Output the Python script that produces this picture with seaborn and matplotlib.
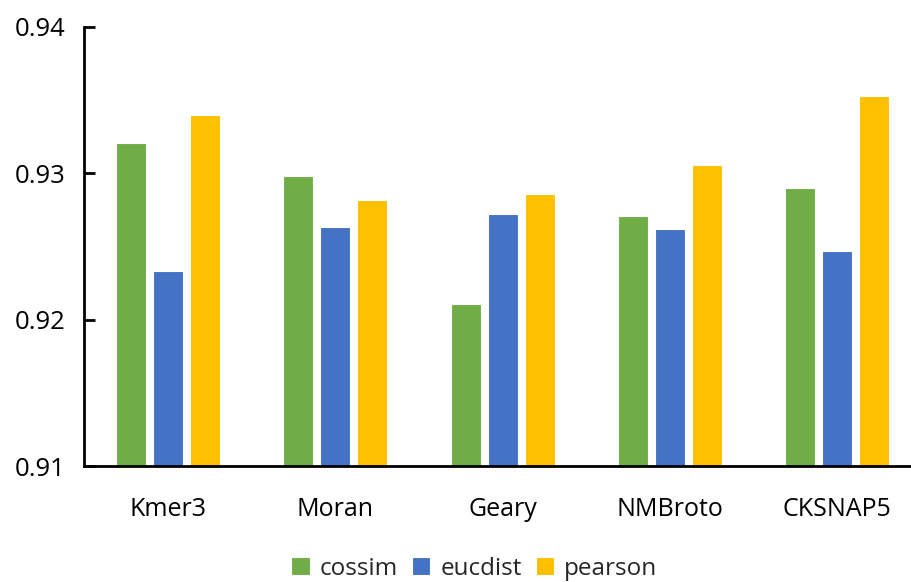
import matplotlib
matplotlib.use("Agg")
import matplotlib.pyplot as plt
import seaborn as sns
import pandas as pd

# Feature encodings and the score of each similarity measure
categories = ["Kmer3", "Moran", "Geary", "NMBroto", "CKSNAP5"]
measures = ["cossim", "eucdist", "pearson"]
cossim = [0.9321, 0.9298, 0.9211, 0.9271, 0.9290]
eucdist = [0.9233, 0.9263, 0.9272, 0.9262, 0.9247]
pearson = [0.9340, 0.9282, 0.9286, 0.9306, 0.9353]
yticks = [0.91, 0.92, 0.93, 0.94]

colors = ["#70AD47", "#4472C4", "#FFC000"]

df = pd.DataFrame({
    "feature": categories * 3,
    "measure": [m for m in measures for _ in categories],
    "score": cossim + eucdist + pearson,
})

sns.set_theme(style="white")
plt.rcParams["font.family"] = ["Open Sans", "DejaVu Sans"]

fig = plt.figure(figsize=(9.11, 5.82), dpi=100)
ax = fig.add_axes([84 / 911, 1 - 466 / 582, (911 - 84) / 911, (466 - 27) / 582])

sns.barplot(data=df, x="feature", y="score", hue="measure",
            order=categories, hue_order=measures, palette=colors,
            width=0.663, gap=0.19, saturation=1, ax=ax,
            edgecolor="white", linewidth=0.8)

ax.set_ylim(0.91, 0.94)
ax.set_xlim(-0.5, 4.44)
ax.set_yticks(yticks)
ax.set_yticklabels([f"{t:.2f}" for t in yticks])
ax.set_xlabel("")
ax.set_ylabel("")

for side in ["top", "right"]:
    ax.spines[side].set_visible(False)
for side in ["left", "bottom"]:
    ax.spines[side].set_color("black")
    ax.spines[side].set_linewidth(2.0)

ax.tick_params(axis="y", direction="in", length=8, width=2.0, labelsize=18.5,
               pad=13, left=True, colors="black")
ax.tick_params(axis="x", length=0, labelsize=18, pad=22, colors="black")

handles, labels = ax.get_legend_handles_labels()
ax.legend(handles, labels, loc="lower center", bbox_to_anchor=(0.472, -0.30),
          ncol=3, frameon=False, fontsize=17.5, handlelength=0.75, handleheight=0.75,
          handletextpad=0.4, columnspacing=0.6, borderpad=0.2)

fig.savefig("out.png", dpi=100)
